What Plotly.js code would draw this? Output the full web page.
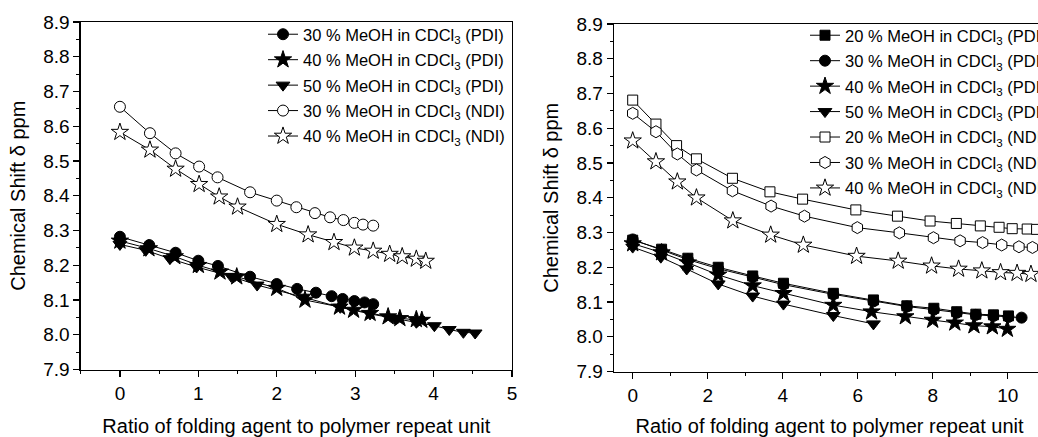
<!DOCTYPE html>
<html><head><meta charset="utf-8">
<script src="https://cdn.plot.ly/plotly-3.0.1.min.js"></script>
<style>html,body{margin:0;padding:0;overflow:hidden;background:#fff}#chart{width:1075px;height:437px}</style>
</head><body><div id="chart"></div>
<script>
// ---- Left panel data ----
const L_pdi30_x = [0, 0.374, 0.71, 1.0, 1.25, 1.66, 2.0, 2.26, 2.5, 2.7, 2.84, 2.99, 3.12, 3.23];
const L_pdi30_y = [8.282, 8.258, 8.236, 8.213, 8.198, 8.167, 8.146, 8.132, 8.121, 8.111, 8.103, 8.097, 8.093, 8.088];
const L_pdi40_x = [0, 0.37, 0.7, 1.0, 1.276, 1.49, 2.0, 2.36, 2.8, 2.98, 3.19, 3.42, 3.57, 3.78, 3.85];
const L_pdi40_y = [8.27, 8.248, 8.225, 8.2, 8.181, 8.167, 8.134, 8.1, 8.08, 8.071, 8.062, 8.052, 8.047, 8.044, 8.042];
const L_pdi50_x = [0, 0.33, 0.638, 0.978, 1.42, 1.75, 2.34, 2.81, 3.19, 3.51, 3.78, 4.01, 4.2, 4.38, 4.53];
const L_pdi50_y = [8.26, 8.243, 8.219, 8.195, 8.168, 8.143, 8.108, 8.079, 8.06, 8.047, 8.036, 8.026, 8.015, 8.007, 8.005];
const L_ndi30_x = [0, 0.383, 0.71, 1.01, 1.245, 1.66, 2.0, 2.25, 2.487, 2.68, 2.85, 2.99, 3.1, 3.23];
const L_ndi30_y = [8.656, 8.58, 8.522, 8.484, 8.453, 8.41, 8.386, 8.367, 8.35, 8.338, 8.33, 8.322, 8.317, 8.314];
const L_ndi40_x = [0, 0.383, 0.71, 1.01, 1.266, 1.5, 2.0, 2.4, 2.73, 2.99, 3.23, 3.44, 3.6, 3.78, 3.9];
const L_ndi40_y = [8.583, 8.532, 8.477, 8.433, 8.397, 8.368, 8.318, 8.288, 8.266, 8.25, 8.241, 8.232, 8.225, 8.218, 8.212];

// ---- Right panel data ----
const R_pdi20_x = [0, 0.77, 1.47, 2.28, 3.2, 4.02, 5.35, 6.42, 7.31, 8.03, 8.64, 9.15, 9.62, 10.02];
const R_pdi20_y = [8.278, 8.252, 8.226, 8.2, 8.175, 8.154, 8.125, 8.106, 8.089, 8.082, 8.072, 8.065, 8.063, 8.06];
const R_pdi30_x = [0, 0.77, 1.47, 2.28, 3.2, 4.02, 5.35, 6.42, 7.31, 8.03, 8.64, 9.15, 9.62, 10.02, 10.37];
const R_pdi30_y = [8.28, 8.25, 8.222, 8.196, 8.172, 8.15, 8.122, 8.102, 8.087, 8.078, 8.069, 8.063, 8.06, 8.057, 8.055];
const R_pdi40_x = [0, 0.77, 1.47, 2.28, 3.2, 4.02, 5.35, 6.37, 7.27, 8.0, 8.59, 9.1, 9.59, 9.99];
const R_pdi40_y = [8.268, 8.242, 8.213, 8.178, 8.147, 8.125, 8.091, 8.072, 8.058, 8.048, 8.04, 8.032, 8.029, 8.022];
const R_pdi50_x = [0, 0.75, 1.44, 2.28, 3.2, 4.02, 5.35, 6.42];
const R_pdi50_y = [8.258, 8.229, 8.195, 8.152, 8.117, 8.094, 8.061, 8.037];
const R_ndi20_x = [0, 0.62, 1.17, 1.7, 2.66, 3.66, 4.53, 5.95, 7.06, 7.93, 8.63, 9.27, 9.77, 10.12, 10.52, 10.77];
const R_ndi20_y = [8.681, 8.612, 8.55, 8.512, 8.456, 8.417, 8.396, 8.365, 8.347, 8.333, 8.326, 8.319, 8.315, 8.311, 8.31, 8.309];
const R_ndi30_x = [0, 0.62, 1.19, 1.7, 2.66, 3.69, 4.58, 5.99, 7.11, 8.02, 8.73, 9.33, 9.84, 10.3, 10.66];
const R_ndi30_y = [8.643, 8.59, 8.526, 8.48, 8.42, 8.376, 8.347, 8.314, 8.299, 8.285, 8.276, 8.271, 8.264, 8.259, 8.257];
const R_ndi40_x = [0, 0.62, 1.19, 1.7, 2.67, 3.68, 4.55, 5.97, 7.08, 7.97, 8.69, 9.31, 9.81, 10.25, 10.62];
const R_ndi40_y = [8.564, 8.504, 8.446, 8.4, 8.334, 8.293, 8.264, 8.232, 8.218, 8.204, 8.195, 8.19, 8.185, 8.183, 8.18];

const leftNames = ['30 % MeOH in CDCl<sub>3</sub> (PDI)', '40 % MeOH in CDCl<sub>3</sub> (PDI)', '50 % MeOH in CDCl<sub>3</sub> (PDI)', '30 % MeOH in CDCl<sub>3</sub> (NDI)', '40 % MeOH in CDCl<sub>3</sub> (NDI)'];
const rightNames = ['20 % MeOH in CDCl<sub>3</sub> (PDI)', '30 % MeOH in CDCl<sub>3</sub> (PDI)', '40 % MeOH in CDCl<sub>3</sub> (PDI)', '50 % MeOH in CDCl<sub>3</sub> (PDI)', '20 % MeOH in CDCl<sub>3</sub> (NDI)', '30 % MeOH in CDCl<sub>3</sub> (NDI)', '40 % MeOH in CDCl<sub>3</sub> (NDI)'];
const xTitle = 'Ratio of folding agent to polymer repeat unit';
const yTitle = 'Chemical Shift δ ppm';

const FONT = 'Arial, "Liberation Sans", Helvetica, sans-serif';
let gi = 0;
function tr(x, y, name, sym, size, filled, xa, ya, leg) {
  gi += 1;
  return {
    x: x, y: y, name: name, type: 'scatter', mode: 'lines+markers',
    xaxis: xa, yaxis: ya, legend: leg, legendgroup: 'g' + gi,
    line: {color: '#000', width: 1},
    marker: {symbol: sym, size: size, color: filled ? '#000' : '#fff', line: {color: '#000', width: 1}}
  };
}
const data = [
  tr(L_pdi30_x, L_pdi30_y, leftNames[0], 'circle', 11, true, 'x', 'y', 'legend'),
  tr(L_pdi40_x, L_pdi40_y, leftNames[1], 'star', 13, true, 'x', 'y', 'legend'),
  tr(L_pdi50_x, L_pdi50_y, leftNames[2], 'triangle-down', 12, true, 'x', 'y', 'legend'),
  tr(L_ndi30_x, L_ndi30_y, leftNames[3], 'circle', 11, false, 'x', 'y', 'legend'),
  tr(L_ndi40_x, L_ndi40_y, leftNames[4], 'star', 13, false, 'x', 'y', 'legend'),
  tr(R_pdi20_x, R_pdi20_y, rightNames[0], 'square', 10, true, 'x2', 'y2', 'legend2'),
  tr(R_pdi30_x, R_pdi30_y, rightNames[1], 'circle', 11, true, 'x2', 'y2', 'legend2'),
  tr(R_pdi40_x, R_pdi40_y, rightNames[2], 'star', 13, true, 'x2', 'y2', 'legend2'),
  tr(R_pdi50_x, R_pdi50_y, rightNames[3], 'triangle-down', 12, true, 'x2', 'y2', 'legend2'),
  tr(R_ndi20_x, R_ndi20_y, rightNames[4], 'square', 10, false, 'x2', 'y2', 'legend2'),
  tr(R_ndi30_x, R_ndi30_y, rightNames[5], 'hexagon', 12, false, 'x2', 'y2', 'legend2'),
  tr(R_ndi40_x, R_ndi40_y, rightNames[6], 'star', 13, false, 'x2', 'y2', 'legend2')
];

function xax(dom, range, dtick, mdt, anchor) {
  return {domain: dom, range: range, anchor: anchor, dtick: dtick, tick0: 0,
    showline: true, mirror: true, linecolor: '#000', linewidth: 1.3,
    ticks: 'outside', ticklen: 6, tickwidth: 1.2, tickcolor: '#000',
    minor: {dtick: mdt, tick0: 0, ticks: 'outside', ticklen: 3, tickcolor: '#000', tickwidth: 1, showgrid: false},
    showgrid: false, zeroline: false,
    tickfont: {family: FONT, size: 19, color: '#000'},
    title: {text: xTitle, font: {family: FONT, size: 20, color: '#000'}, standoff: 16}};
}
function yax(dom, anchor) {
  return {domain: dom, range: [7.9, 8.9], anchor: anchor, dtick: 0.1, tick0: 7.9, tickformat: '.1f',
    showline: true, mirror: true, linecolor: '#000', linewidth: 1.3,
    ticks: 'outside', ticklen: 6, tickwidth: 1.2, tickcolor: '#000',
    minor: {dtick: 0.05, tick0: 7.9, ticks: 'outside', ticklen: 3, tickcolor: '#000', tickwidth: 1, showgrid: false},
    showgrid: false, zeroline: false,
    tickfont: {family: FONT, size: 19, color: '#000'},
    title: {text: yTitle, font: {family: FONT, size: 20, color: '#000'}, standoff: 12}};
}
const W = 1075, H = 437;
const layout = {
  width: W, height: H, margin: {l: 0, r: 0, t: 0, b: 0, autoexpand: false},
  paper_bgcolor: '#fff', plot_bgcolor: '#fff', showlegend: true,
  font: {family: FONT, color: '#000'},
  xaxis: xax([80.7 / W, 512 / W], [-0.5, 5], 1, 0.5, 'y'),
  yaxis: yax([(H - 369.5) / H, (H - 22) / H], 'x'),
  xaxis2: xax([613.95 / W, 1045.2 / W], [-0.5, 11], 2, 1, 'y2'),
  yaxis2: yax([(H - 371.5) / H, (H - 24) / H], 'x2'),
  legend: {x: 263 / W, y: (H - 17) / H, xanchor: 'left', yanchor: 'top', bgcolor: 'rgba(0,0,0,0)',
    font: {family: FONT, size: 16.5, color: '#000'}, tracegroupgap: 1, traceorder: 'grouped'},
  legend2: {x: 805 / W, y: (H - 18) / H, xanchor: 'left', yanchor: 'top', bgcolor: 'rgba(0,0,0,0)',
    font: {family: FONT, size: 16.5, color: '#000'}, tracegroupgap: 1, traceorder: 'grouped'}
};
Plotly.newPlot('chart', data, layout, {staticPlot: true, displayModeBar: false});
</script></body></html>
